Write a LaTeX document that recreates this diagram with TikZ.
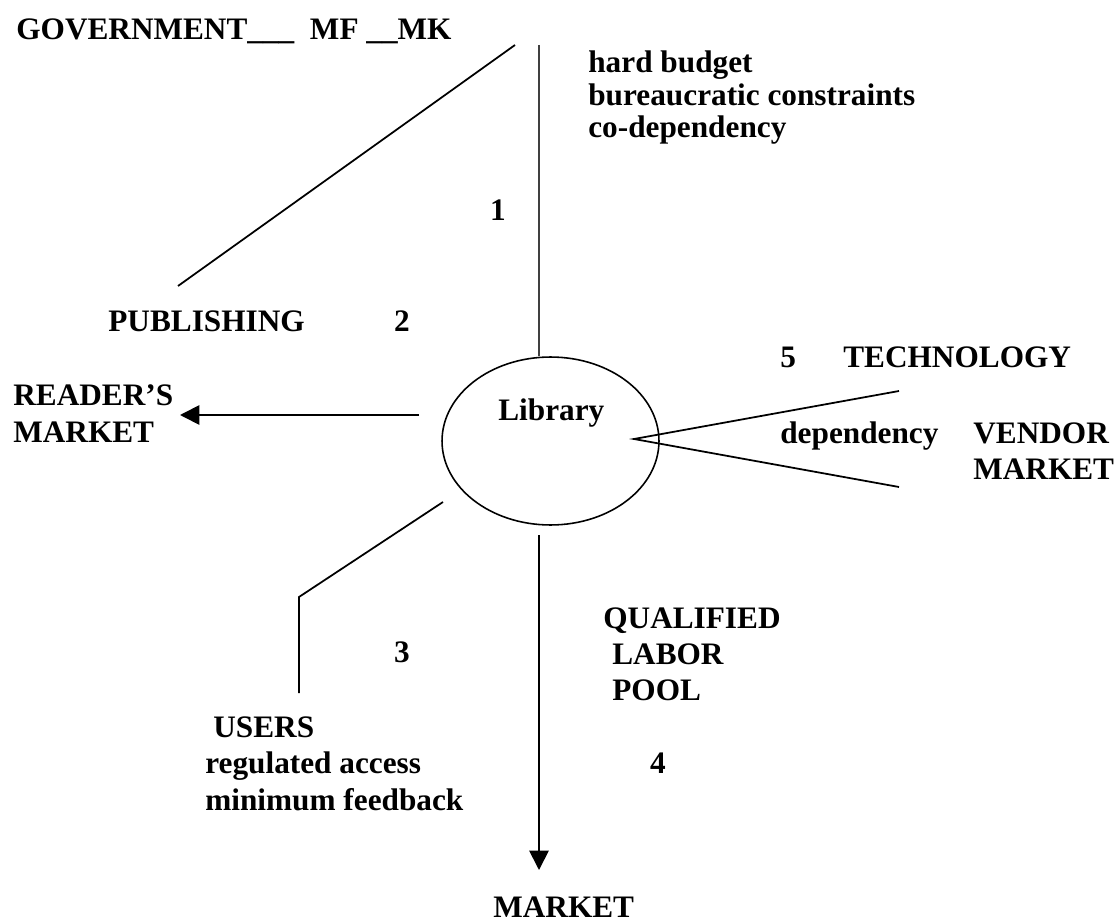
\documentclass[tikz,border=0pt]{standalone}
\usepackage{fontspec}
\setmainfont{Liberation Serif}
\usepackage{tikz}
\usetikzlibrary{shapes.geometric}
\usetikzlibrary{arrows.meta}
\tikzset{txt/.style={font=\bfseries\fontsize{17.8}{21}\selectfont, inner sep=0pt, anchor=base west},
num/.style={txt, anchor=base},
link/.style={line width=1pt},
arr/.style={line width=1pt, -{Triangle[length=11pt,width=11pt]}}}

\begin{document}
\begin{tikzpicture}[x=0.02cm,y=-0.02cm]
\useasboundingbox (0,0) rectangle (1116,922);

\node [draw, ellipse, line width=0.9pt, inner sep=0pt, minimum width=4.34cm, minimum height=3.36cm] (library) at (550.5,441) {};
\node [txt] (libname) at (498,420) {Library};

\node [txt] (gov) at (16,40) {GOVERNMENT\_\_\_\ \ MF \_\_MK};
\node [txt] (hard) at (588,73) {hard budget};
\node [txt] (bureau) at (588,106) {bureaucratic constraints};
\node [txt] (codep) at (588,138) {co-dependency};
\node [num] (one) at (498,221) {1};

\node [txt] (publishing) at (108,332) {PUBLISHING};
\node [num] (two) at (402,332) {2};

\node [txt] (readers) at (13,405) {READER'S};
\node [txt] (readmarket) at (13,442) {MARKET};

\node [txt] (five) at (780,367) {5};
\node [txt] (technology) at (843,367) {TECHNOLOGY};
\node [txt] (dependency) at (780,443) {dependency};
\node [txt] (vendor) at (973,443) {VENDOR};
\node [txt] (vendmarket) at (973,479) {MARKET};

\node [txt] (qualified) at (603,628) {QUALIFIED};
\node [txt] (labor) at (612,664) {LABOR};
\node [txt] (pool) at (612,700) {POOL};
\node [num] (four) at (658,773) {4};
\node [txt] (market) at (493,917) {MARKET};

\node [num] (three) at (402,662) {3};
\node [txt] (users) at (213,737) {USERS};
\node [txt] (access) at (205,773) {regulated access};
\node [txt] (feedback) at (205,810) {minimum feedback};

\coordinate (govend) at (515,45);
\coordinate (pubend) at (178,286);
\coordinate (govtop) at (539,45);
\coordinate (readstart) at (419,415);
\coordinate (readtip) at (180,415);
\coordinate (userstart) at (443,502);
\coordinate (userbend) at (299,597);
\coordinate (userend) at (299,693);
\coordinate (marketstart) at (539,535);
\coordinate (markettip) at (539,870);
\coordinate (apex) at (634,439);
\coordinate (techend) at (899,391);
\coordinate (vendend) at (899,487);

\draw [link] (govend) -- (pubend);
\draw [line width=0.6pt, black!75] (govtop) -- (library.north -| govtop);
\draw [arr] (readstart) -- (readtip);
\draw [link] (userstart) -- (userbend) -- (userend);
\draw [arr] (marketstart) -- (markettip);
\draw [link] (techend) -- (apex) -- (vendend);

\end{tikzpicture}
\end{document}
